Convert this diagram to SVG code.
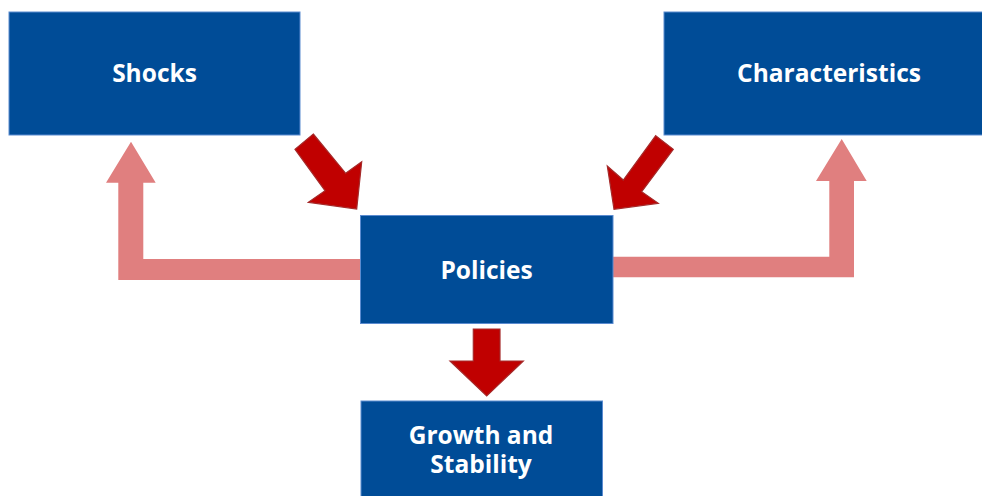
<svg xmlns="http://www.w3.org/2000/svg" width="982" height="496" viewBox="0 0 982 496">
<style>
.box{fill:#004C97;stroke:#5B8BD0;stroke-width:1}
.lbl{font-family:"Open Sans","Noto Sans","DejaVu Sans",sans-serif;font-weight:700;font-size:24.5px;fill:#FFFFFF;text-anchor:middle}
.pink{fill:#E07F7F}
.red{fill:#C00000;stroke:#A52A2A;stroke-width:1.2;stroke-linejoin:miter}
</style>
<rect width="982" height="496" fill="#FFFFFF"/>
<g id="connectors">
<polygon class="pink" points="360,259 143.3,259 143.3,182.7 155.7,182.7 131,141.7 106,182.7 118.3,182.7 118.3,280 360,280"/>
<polygon class="pink" points="613,256.7 829.3,256.7 829.3,181 816,181 841.7,139 866.7,181 854,181 854,277.3 613,277.3"/>
<polygon class="red" points="313.3,134 345.7,173.3 361.7,161.7 356.7,209 308.3,202.3 325,190.7 295,149.3"/>
<polygon class="red" points="655.7,135.7 673.3,149.3 641.7,191.7 658.3,203.3 614,209.3 607.3,166 623.3,180"/>
<polygon class="red" points="473.3,329 500,329 500,361 523.3,361 486.7,396 450,361 473.3,361"/>
</g>
<g id="shocks">
<rect class="box" x="9" y="12" width="291" height="123"/>
<text class="lbl" x="154.5" y="82">Shocks</text>
</g>
<g id="characteristics">
<rect class="box" x="664" y="12" width="330" height="123"/>
<text class="lbl" x="829" y="82">Characteristics</text>
</g>
<g id="policies">
<rect class="box" x="360.5" y="215.5" width="252.5" height="108"/>
<text class="lbl" x="486.5" y="278.5">Policies</text>
</g>
<g id="growth">
<rect class="box" x="361" y="401" width="241.5" height="100"/>
<text class="lbl" x="481" y="443.5"><tspan x="481" y="443.5">Growth and</tspan><tspan x="481" y="472.5">Stability</tspan></text>
</g>
</svg>
